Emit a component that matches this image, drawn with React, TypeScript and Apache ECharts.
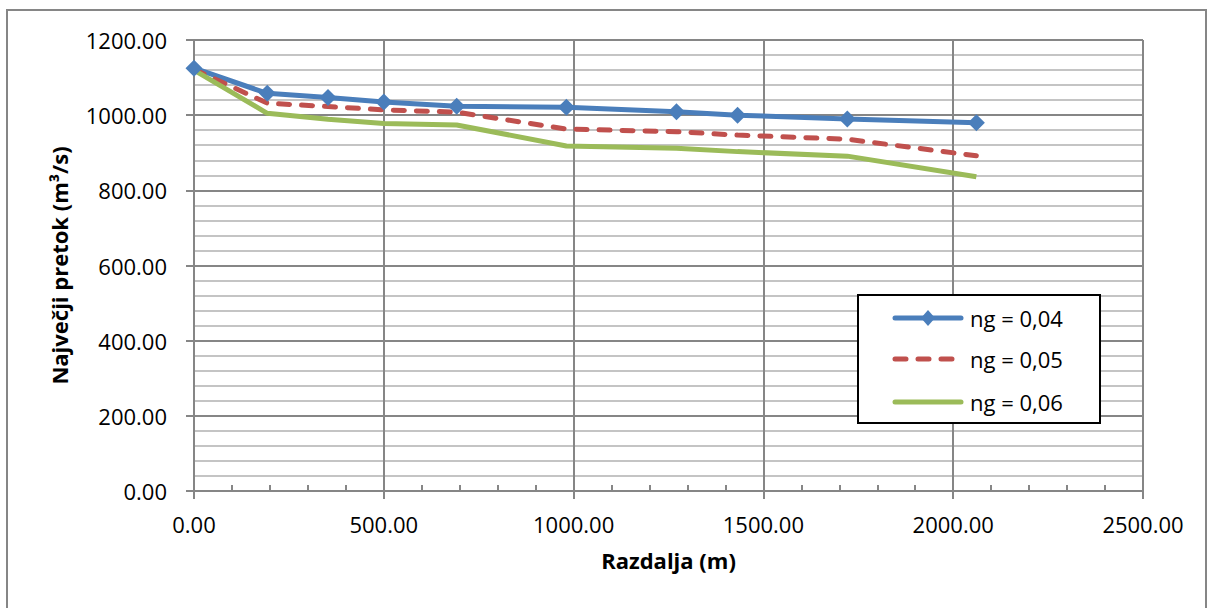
import React, { useEffect, useRef } from "react";
import * as echarts from "echarts";

const distances = [0, 193, 353, 500, 692, 981, 1271, 1432, 1721, 2061];
const flow004 = [1125, 1058, 1047, 1035, 1024, 1021, 1009, 1000, 990, 980];
const flow005 = [1122, 1032, 1023, 1014, 1008, 963, 956, 947, 936, 892];
const flow006 = [1120, 1005, 989, 978, 974, 918, 912, 903, 891, 836];
const seriesNames = ["ng = 0,04", "ng = 0,05", "ng = 0,06"];
const seriesColors = ["#4a7ebb", "#c0504d", "#9bbb59"];
const xTitle = "Razdalja (m)";
const yTitle = "Največji pretok (m³/s)";

const FONT = "Open Sans";

function pairs(xs: number[], ys: number[]) {
  return xs.map((x, i) => [x, ys[i]]);
}

function legendGraphic() {
  const bx = 858, by = 295, bw = 242, bh = 128;
  const rows = [318, 359, 402];
  const x1 = 895, x2 = 961;
  const els: any[] = [
    {
      type: "rect",
      shape: { x: bx, y: by, width: bw, height: bh },
      style: { fill: "#ffffff", stroke: "#000000", lineWidth: 2 },
      z: 100,
    },
  ];
  rows.forEach((y, i) => {
    els.push({
      type: "line",
      shape: { x1, y1: y, x2, y2: y },
      style: {
        stroke: seriesColors[i],
        lineWidth: 5,
        lineCap: "round",
        lineDash: i === 1 ? [11, 12] : null,
      },
      z: 101,
    });
    if (i === 0) {
      const cx = (x1 + x2) / 2;
      els.push({
        type: "polygon",
        shape: { points: [[cx, y - 8], [cx + 7, y], [cx, y + 8], [cx - 7, y]] },
        style: { fill: seriesColors[0] },
        z: 102,
      });
    }
    els.push({
      type: "text",
      x: 970,
      y,
      style: {
        text: seriesNames[i],
        fill: "#000000",
        fontFamily: FONT,
        fontSize: 22,
        verticalAlign: "middle",
        align: "left",
      },
      z: 102,
    });
  });
  return els;
}

export default function App() {
  const ref = useRef<HTMLDivElement>(null);
  useEffect(() => {
    const chart = echarts.init(ref.current!, null, { renderer: "svg" });
    const fmt = (v: number) => v.toFixed(2);
    const gray = "#868686";
    chart.setOption({
      animation: false,
      backgroundColor: "#ffffff",
      textStyle: { fontFamily: FONT },
      graphic: [
        {
          type: "rect",
          shape: { x: 7, y: 10, width: 1199, height: 700 },
          style: { fill: "none", stroke: gray, lineWidth: 2 },
          z: -1,
          silent: true,
        },
        ...legendGraphic(),
      ],
      grid: { left: 194, top: 40, right: 64, bottom: 117 },
      xAxis: [
        {
          type: "value",
          min: 0,
          max: 2500,
          interval: 500,
          name: xTitle,
          nameLocation: "middle",
          nameGap: 58,
          nameTextStyle: { fontFamily: FONT, fontSize: 22, fontWeight: "bold", color: "#000" },
          axisLine: { show: true, lineStyle: { color: gray, width: 2 } },
          axisTick: { show: true, inside: true, length: 6, lineStyle: { color: gray, width: 2 } },
          minorTick: { show: true, splitNumber: 5, length: 6, lineStyle: { color: gray, width: 2 } },
          axisLabel: { formatter: fmt, color: "#000", fontSize: 22, fontFamily: FONT, margin: 22 },
          splitLine: { show: true, lineStyle: { color: gray, width: 2 } },
        },
        {
          type: "value",
          position: "bottom",
          offset: 0,
          min: 0,
          max: 2500,
          interval: 500,
          axisLine: { show: false },
          axisTick: { show: true, inside: false, length: 8, lineStyle: { color: gray, width: 2 } },
          axisLabel: { show: false },
          splitLine: { show: false },
        },
      ],
      yAxis: {
        type: "value",
        min: 0,
        max: 1200,
        interval: 200,
        name: yTitle,
        nameLocation: "middle",
        nameRotate: 90,
        nameGap: 124,
        nameTextStyle: { fontFamily: FONT, fontSize: 22, fontWeight: "bold", color: "#000" },
        axisLine: { show: true, lineStyle: { color: gray, width: 2 } },
        axisTick: { show: true, inside: false, length: 8, lineStyle: { color: gray, width: 2 } },
        axisLabel: { formatter: fmt, color: "#000", fontSize: 22, fontFamily: FONT, margin: 27 },
        splitLine: { show: true, lineStyle: { color: gray, width: 2 } },
        minorTick: { show: false, splitNumber: 5 },
        minorSplitLine: { show: true, lineStyle: { color: "#c4c4c4", width: 2 } },
      },
      series: [
        {
          name: seriesNames[0],
          type: "line",
          data: pairs(distances, flow004),
          symbol: "diamond",
          symbolSize: 17,
          showSymbol: true,
          itemStyle: { color: seriesColors[0] },
          lineStyle: { color: seriesColors[0], width: 5 },
        },
        {
          name: seriesNames[1],
          type: "line",
          data: pairs(distances, flow005),
          symbol: "none",
          itemStyle: { color: seriesColors[1] },
          lineStyle: { color: seriesColors[1], width: 5, type: [11, 12], cap: "round" },
        },
        {
          name: seriesNames[2],
          type: "line",
          data: pairs(distances, flow006),
          symbol: "none",
          itemStyle: { color: seriesColors[2] },
          lineStyle: { color: seriesColors[2], width: 5 },
        },
      ],
    });
    return () => chart.dispose();
  }, []);
  return (
    <div
      ref={ref}
      style={{ position: "fixed", left: 0, top: 0, width: 1207, height: 608 }}
    />
  );
}
